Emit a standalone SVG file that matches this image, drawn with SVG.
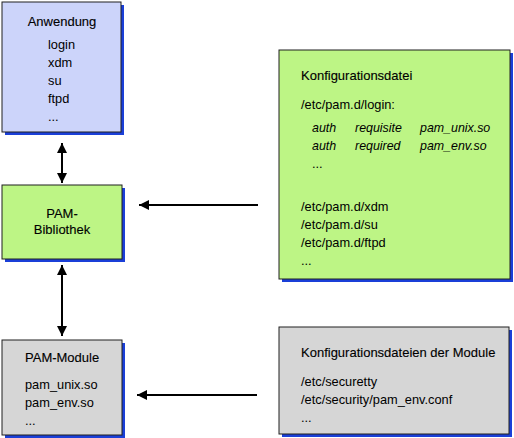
<svg xmlns="http://www.w3.org/2000/svg" width="514" height="438" viewBox="0 0 514 438">
<defs>
<style>
.sh{fill:#1a3fd8}
.bx{stroke:#202020;stroke-width:1}
.t{font-family:"Liberation Sans",Arial,sans-serif;font-size:12.8px;fill:#000}
.h{font-family:"Liberation Sans",Arial,sans-serif;font-size:13px;fill:#000;stroke:#000;stroke-width:0.12}
.i{font-style:italic;font-size:12.4px}
.ln{stroke:#000;stroke-width:2;fill:none}
</style>
<marker id="ah" viewBox="0 0 10 10" refX="10" refY="5" markerWidth="5" markerHeight="5" orient="auto-start-reverse" markerUnits="strokeWidth">
<path d="M0,0 L10,5 L0,10 z" fill="#000"/>
</marker>
</defs>
<rect width="514" height="438" fill="#fff"/>
<g id="anwendung">
<rect class="sh" x="5" y="5" width="119" height="130"/>
<rect class="bx" x="2" y="2" width="119" height="130" fill="#ccd4fa"/>
<text class="h" x="62" y="26" text-anchor="middle">Anwendung</text>
<text class="t" x="48" y="49">login</text>
<text class="t" x="48" y="67">xdm</text>
<text class="t" x="48" y="85">su</text>
<text class="t" x="48" y="103">ftpd</text>
<text class="t" x="48" y="121">...</text>
</g>
<g id="pam-bibliothek">
<rect class="sh" x="5" y="188" width="120" height="74"/>
<rect class="bx" x="2" y="185" width="120" height="74" fill="#bdf585"/>
<text class="h" x="62" y="218" text-anchor="middle">PAM-</text>
<text class="h" x="62" y="234" text-anchor="middle">Bibliothek</text>
</g>
<g id="pam-module">
<rect class="sh" x="5" y="343" width="120" height="95"/>
<rect class="bx" x="2" y="340" width="120" height="95" fill="#d6d6d6"/>
<text class="h" x="25" y="362">PAM-Module</text>
<text class="t" x="25" y="389">pam_unix.so</text>
<text class="t" x="25" y="407">pam_env.so</text>
<text class="t" x="25" y="425">...</text>
</g>
<g id="konfigurationsdatei">
<rect class="sh" x="282" y="53" width="231" height="229"/>
<rect class="bx" x="279" y="50" width="231" height="229" fill="#bdf585"/>
<text class="h" x="301" y="80">Konfigurationsdatei</text>
<text class="t" x="301" y="109">/etc/pam.d/login:</text>
<text class="t i" x="312" y="132">auth</text>
<text class="t i" x="355" y="132">requisite</text>
<text class="t i" x="420" y="132">pam_unix.so</text>
<text class="t i" x="312" y="150">auth</text>
<text class="t i" x="355" y="150">required</text>
<text class="t i" x="420" y="150">pam_env.so</text>
<text class="t" x="312" y="168">...</text>
<text class="t" x="301" y="211">/etc/pam.d/xdm</text>
<text class="t" x="301" y="229">/etc/pam.d/su</text>
<text class="t" x="301" y="247">/etc/pam.d/ftpd</text>
<text class="t" x="301" y="265">...</text>
</g>
<g id="konfigurationsdateien-module">
<rect class="sh" x="282" y="330" width="230" height="107"/>
<rect class="bx" x="279" y="327" width="230" height="107" fill="#d6d6d6"/>
<text class="h" x="301" y="357">Konfigurationsdateien der Module</text>
<text class="t" x="301" y="386">/etc/securetty</text>
<text class="t" x="301" y="404">/etc/security/pam_env.conf</text>
<text class="t" x="301" y="422">...</text>
</g>
<g id="connectors">
<line class="ln" x1="62" y1="143" x2="62" y2="183" marker-start="url(#ah)" marker-end="url(#ah)"/>
<line class="ln" x1="62" y1="265" x2="62" y2="336" marker-start="url(#ah)" marker-end="url(#ah)"/>
<line class="ln" x1="258" y1="205" x2="139" y2="205" marker-end="url(#ah)"/>
<line class="ln" x1="257" y1="395" x2="137" y2="395" marker-end="url(#ah)"/>
</g>
</svg>
